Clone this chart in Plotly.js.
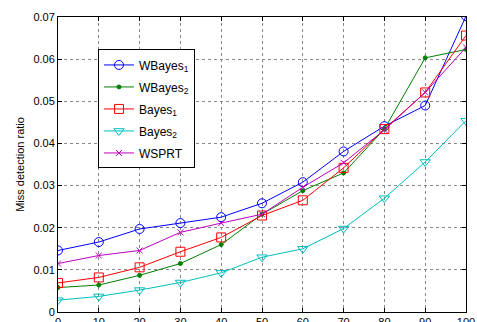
<!DOCTYPE html>
<html>
<head>
<meta charset="utf-8">
<script src="https://cdn.plot.ly/plotly-3.0.1.min.js"></script>
<style>html,body{margin:0;padding:0;background:#fff;}#chart{width:477px;height:322px;}</style>
</head>
<body>
<div id="chart"></div>
<script>
const xVals = [0, 10, 20, 30, 40, 50, 60, 70, 80, 90, 100];
const wbayes1 = [0.0146, 0.0166, 0.0197, 0.0211, 0.0225, 0.0258, 0.0308, 0.0381, 0.0441, 0.0490, 0.0702];
const wbayes2 = [0.0058, 0.0064, 0.0087, 0.0115, 0.0160, 0.0232, 0.0288, 0.0330, 0.0434, 0.0603, 0.0623];
const bayes1  = [0.0069, 0.0082, 0.0106, 0.0143, 0.0177, 0.0229, 0.0265, 0.0342, 0.0434, 0.0521, 0.0656];
const bayes2  = [0.0028, 0.0037, 0.0052, 0.0070, 0.0093, 0.0130, 0.0150, 0.0198, 0.0270, 0.0356, 0.0454];
const wsprt   = [0.0115, 0.0134, 0.0146, 0.0189, 0.0211, 0.0232, 0.0296, 0.0354, 0.0432, 0.0521, 0.0628];
const seriesNames = ['WBayes<sub>1</sub>', 'WBayes<sub>2</sub>', 'Bayes<sub>1</sub>', 'Bayes<sub>2</sub>', 'WSPRT'];
const xTicks = [0, 10, 20, 30, 40, 50, 60, 70, 80, 90, 100];
const yTicks = [0, 0.01, 0.02, 0.03, 0.04, 0.05, 0.06, 0.07];
const yTickText = ['0', '0.01', '0.02', '0.03', '0.04', '0.05', '0.06', '0.07'];

function tr(y, name, color, symbol, size, grp) {
  return {x: xVals, y: y, name: name, type: 'scatter', mode: 'lines+markers', legendgroup: grp,
    line: {color: color, width: 1},
    marker: {symbol: symbol, size: size, color: color, line: {color: color, width: 1}}};
}
const data = [
  tr(wbayes1, seriesNames[0], '#0000ff', 'circle-open', 9, 'g1'),
  tr(wbayes2, seriesNames[1], '#008000', 'circle', 4, 'g2'),
  tr(bayes1, seriesNames[2], '#ff0000', 'square-open', 9, 'g3'),
  tr(bayes2, seriesNames[3], '#00bfbf', 'triangle-down-open', 9, 'g4'),
  tr(wsprt, seriesNames[4], '#bf00bf', 'x-thin-open', 6, 'g5')
];
const axisCommon = {showline: true, linecolor: '#000', linewidth: 1, mirror: 'ticks',
  ticks: 'inside', ticklen: 4, tickcolor: '#000', showgrid: true, gridcolor: '#888',
  griddash: 'dot', gridwidth: 1, zeroline: false,
  tickfont: {family: 'Liberation Sans, Arial, sans-serif', size: 11, color: '#000'}};
const layout = {
  width: 477, height: 322,
  margin: {l: 58, r: 11, t: 17, b: 10},
  paper_bgcolor: '#fff', plot_bgcolor: '#fff',
  showlegend: true,
  legend: {x: 0.098, y: 0.89, xanchor: 'left', yanchor: 'top', bgcolor: '#fff',
    bordercolor: '#000', borderwidth: 1, itemwidth: 30, traceorder: 'grouped', tracegroupgap: 3,
    font: {family: 'Liberation Sans, Arial, sans-serif', size: 12, color: '#000'}},
  xaxis: Object.assign({}, axisCommon, {range: [0, 100], tickvals: xTicks}),
  yaxis: Object.assign({}, axisCommon, {range: [0, 0.07], tickvals: yTicks, ticktext: yTickText,
    title: {text: 'Miss detection ratio', standoff: 6,
      font: {family: 'Liberation Sans, Arial, sans-serif', size: 11, color: '#000'}}})
};
Plotly.newPlot('chart', data, layout, {displayModeBar: false, staticPlot: true});
</script>
</body>
</html>
